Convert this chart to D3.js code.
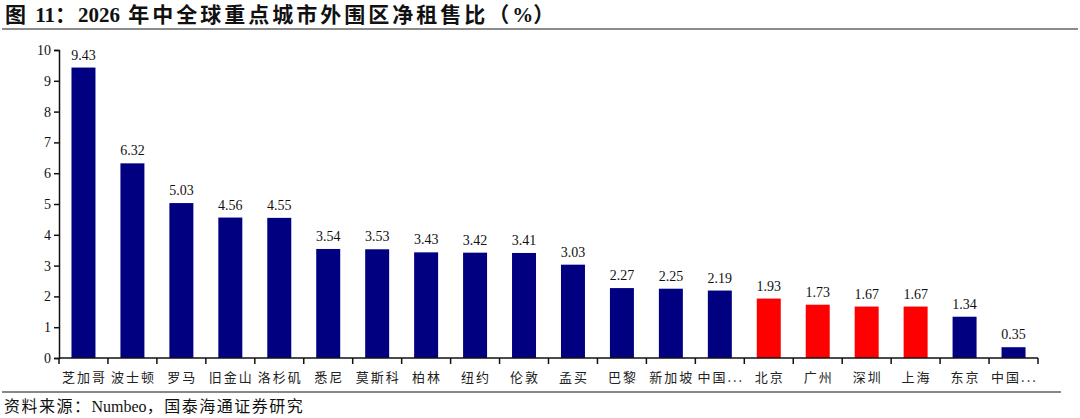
<!DOCTYPE html>
<html>
<head>
<meta charset="utf-8">
<script src="https://cdn.jsdelivr.net/npm/d3@7"></script>
<style>
  body { margin: 0; background: #fff; }
  svg { display: block; }
</style>
</head>
<body>
<div id="chart"></div>
<script>
// data
var cities = ["芝加哥", "波士顿", "罗马", "旧金山", "洛杉矶", "悉尼", "莫斯科", "柏林", "纽约", "伦敦",
              "孟买", "巴黎", "新加坡", "中国...", "北京", "广州", "深圳", "上海", "东京", "中国..."];
var ratios = [9.43, 6.32, 5.03, 4.56, 4.55, 3.54, 3.53, 3.43, 3.42, 3.41,
              3.03, 2.27, 2.25, 2.19, 1.93, 1.73, 1.67, 1.67, 1.34, 0.35];
var domestic = ["北京", "广州", "深圳", "上海"];
var yTicks = [0, 1, 2, 3, 4, 5, 6, 7, 8, 9, 10];

var width = 1080, height = 418;
var plotLeft = 59, plotRight = 1038, plotTop = 50, plotBottom = 358;

var serif = "'Liberation Serif', 'Times New Roman', serif";
var cjk = "'Noto Sans CJK SC', sans-serif";

var svg = d3.select("#chart").append("svg")
    .attr("width", width)
    .attr("height", height);

// title + rules (latin bits tight, cjk bits spaced out)
var title = svg.append("text")
    .attr("x", 5)
    .attr("y", 22)
    .attr("font-family", serif + ", " + cjk)
    .attr("font-weight", "bold")
    .attr("font-size", 21)
    .attr("fill", "#111");
[["图 ", 2], ["11", 0], ["：", 2], ["2026", 0], [" 年中全球重点城市外围区净租售比（", 3], ["%", 0], ["）", 0]]
    .forEach(function (p) {
        title.append("tspan").attr("letter-spacing", p[1]).text(p[0]);
    });

svg.append("line")
    .attr("x1", 2).attr("x2", 1078)
    .attr("y1", 29).attr("y2", 29)
    .attr("stroke", "#666").attr("stroke-width", 1.5);

svg.append("line")
    .attr("x1", 2).attr("x2", 1061)
    .attr("y1", 392).attr("y2", 392)
    .attr("stroke", "#111").attr("stroke-width", 1.2);

var source = svg.append("text")
    .attr("x", 4)
    .attr("y", 412)
    .attr("font-family", serif + ", " + cjk)
    .attr("font-size", 16)
    .attr("fill", "#111");
[["资料来源：", 1.5], ["Numbeo", 0], ["，国泰海通证券研究", 1.5]].forEach(function (p) {
    source.append("tspan").attr("letter-spacing", p[1]).text(p[0]);
});

// scales
var keys = cities.map(function (d, i) { return i; });
var x = d3.scaleBand()
    .domain(keys)
    .range([plotLeft, plotRight])
    .paddingInner(0.51)
    .paddingOuter(0.255);

var y = d3.scaleLinear()
    .domain([0, 10])
    .range([plotBottom, plotTop]);

// bars
svg.append("g")
    .selectAll("rect")
    .data(ratios)
    .enter()
    .append("rect")
    .attr("x", function (d, i) { return x(i); })
    .attr("width", x.bandwidth())
    .attr("y", function (d) { return y(d); })
    .attr("height", function (d) { return y(0) - y(d); })
    .attr("fill", function (d, i) {
        return domestic.indexOf(cities[i]) >= 0 ? "#ff0000" : "#000080";
    });

// value labels
svg.append("g")
    .selectAll("text")
    .data(ratios)
    .enter()
    .append("text")
    .attr("x", function (d, i) { return x(i) + x.bandwidth() / 2; })
    .attr("y", function (d) { return y(d) - 8; })
    .attr("text-anchor", "middle")
    .attr("font-family", serif)
    .attr("font-size", 14)
    .attr("fill", "#111")
    .text(function (d) { return d.toFixed(2); });

// y axis
var yAxis = svg.append("g")
    .attr("transform", "translate(" + plotLeft + ",0)")
    .call(d3.axisLeft(y).tickValues(yTicks).tickSize(5).tickPadding(3).tickFormat(d3.format("d")));
yAxis.select(".domain").attr("stroke", "#111").attr("stroke-width", 1.5);
yAxis.selectAll(".tick line").attr("stroke", "#111").attr("stroke-width", 1.5);
yAxis.selectAll(".tick text")
    .attr("font-family", serif)
    .attr("font-size", 14)
    .attr("fill", "#111");

// x axis: ticks sit on band boundaries
var step = x.step();
var xAxisG = svg.append("g")
    .attr("transform", "translate(0," + plotBottom + ")");
xAxisG.append("line")
    .attr("x1", plotLeft).attr("x2", plotRight)
    .attr("stroke", "#111").attr("stroke-width", 1.5);
xAxisG.selectAll(".xtick")
    .data(d3.range(cities.length + 1))
    .enter()
    .append("line")
    .attr("class", "xtick")
    .attr("x1", function (i) { return plotLeft + i * step; })
    .attr("x2", function (i) { return plotLeft + i * step; })
    .attr("y1", 0).attr("y2", 6)
    .attr("stroke", "#111").attr("stroke-width", 1.5);
xAxisG.selectAll(".xlabel")
    .data(cities)
    .enter()
    .append("text")
    .attr("class", "xlabel")
    .attr("x", function (d, i) { return x(i) + x.bandwidth() / 2 + 1; })
    .attr("y", 24)
    .attr("text-anchor", "middle")
    .attr("font-family", cjk)
    .attr("font-size", 13)
    .attr("letter-spacing", 2)
    .attr("fill", "#222")
    .text(function (d) { return d; });
</script>
</body>
</html>
